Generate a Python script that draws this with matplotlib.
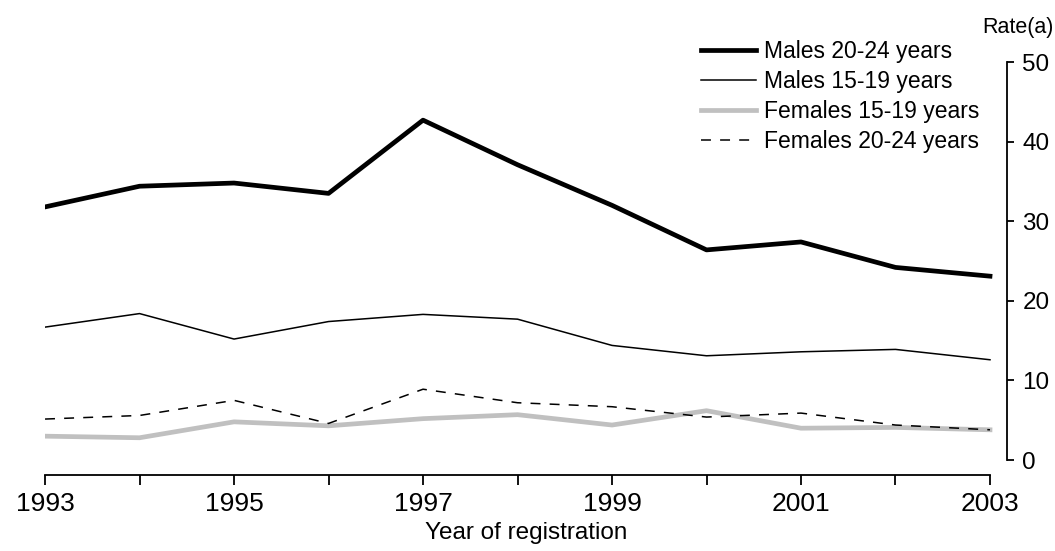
import matplotlib

matplotlib.use("Agg")
import matplotlib.pyplot as plt
from matplotlib import font_manager

years = list(range(1993, 2004))
males_20_24 = [31.8, 34.4, 34.8, 33.5, 42.7, 37.1, 32.0, 26.4, 27.4, 24.2, 23.1]
males_15_19 = [16.7, 18.4, 15.2, 17.4, 18.3, 17.7, 14.4, 13.1, 13.6, 13.9, 12.6]
females_15_19 = [3.0, 2.8, 4.8, 4.3, 5.2, 5.7, 4.4, 6.2, 4.0, 4.1, 3.8]
females_20_24 = [5.15, 5.6, 7.5, 4.6, 8.9, 7.2, 6.7, 5.4, 5.9, 4.4, 3.8]
x_tick_labels = ["1993", "", "1995", "", "1997", "", "1999", "", "2001", "", "2003"]
y_ticks = [0, 10, 20, 30, 40, 50]

names = {f.name for f in font_manager.fontManager.ttflist}
family = "Liberation Sans Narrow" if "Liberation Sans Narrow" in names else "Liberation Sans"
plt.rcParams["font.family"] = [family, "DejaVu Sans"]

fig = plt.figure(figsize=(10.55, 5.51), dpi=100)
ax = fig.add_axes([0.0427, 0.1379, 0.9118, 0.7495])

ax.plot(years, males_20_24, color="black", lw=3.4, label="Males 20-24 years")
ax.plot(years, males_15_19, color="black", lw=1.1, label="Males 15-19 years")
ax.plot(years, females_15_19, color="#c0c0c0", lw=3.4, label="Females 15-19 years")
ax.plot(years, females_20_24, color="black", lw=1.1, dashes=(6.5, 6),
        label="Females 20-24 years")

ax.set_xlim(1993, 2003.18)
ax.set_ylim(-1.88, 50)

for side in ("top", "left"):
    ax.spines[side].set_visible(False)
ax.spines["bottom"].set_bounds(1993, 2003)
ax.spines["right"].set_bounds(0, 50)
ax.spines["bottom"].set_linewidth(1.3)
ax.spines["right"].set_linewidth(1.3)

ax.yaxis.tick_right()
ax.set_yticks(y_ticks)
ax.set_yticklabels([str(v) for v in y_ticks], fontsize=17.5)
ax.tick_params(axis="y", direction="out", length=5, width=1.3, pad=6)

ax.set_xticks(years)
ax.set_xticklabels(x_tick_labels, fontsize=19)
ax.tick_params(axis="x", direction="out", length=7.5, width=1.3, pad=5)

ax.set_xlabel("Year of registration", fontsize=17.5, labelpad=4)
fig.text(1018 / 1055, 1 - 28 / 551, "Rate(a)", fontsize=15.5, ha="center", va="center")

ax.legend(loc="upper left", bbox_to_anchor=(701 / 1055, 1 - 40 / 551),
          bbox_transform=fig.transFigure, frameon=False, borderpad=0,
          fontsize=16.5, handlelength=2.4, handletextpad=0.35,
          labelspacing=0.3, borderaxespad=0)

fig.savefig("out.png", dpi=100)
